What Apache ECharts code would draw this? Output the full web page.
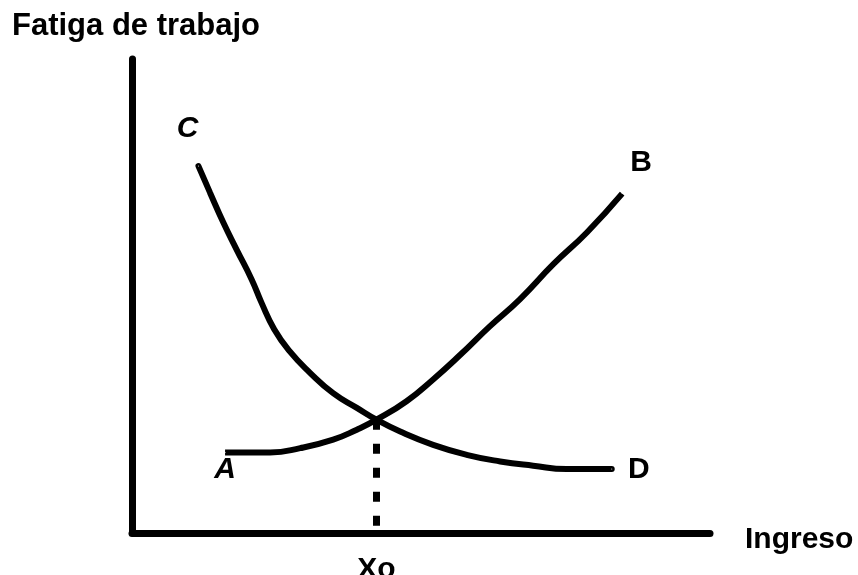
<!DOCTYPE html>
<html>
<head>
<meta charset="utf-8">
<script src="https://cdn.jsdelivr.net/npm/echarts@6/dist/echarts.min.js"></script>
<style>
html,body{margin:0;padding:0;background:#fff;}
#chart{width:858px;height:575px;}
</style>
</head>
<body>
<div id="chart"></div>
<script>
// Curve C–D (descending)
const cdX = [11.5, 13.5, 15.8, 18.1, 20.7, 22.4, 24.6, 27.3, 30.8, 34.8, 38.9, 42.3, 46.4, 52.1, 57.9, 63.7, 69.4, 75.2, 83.0];
const cdY = [77.4, 71.8, 65.5, 59.8, 53.5, 48.6, 43.0, 38.3, 33.8, 29.5, 26.4, 23.9, 21.4, 18.6, 16.5, 15.1, 14.2, 13.5, 13.5];
// Curve A–B (ascending)
const abX = [16.1, 23.9, 29.1, 34.8, 38.9, 42.3, 47.5, 52.1, 56.8, 61.9, 67.1, 72.9, 78.7, 84.8];
const abY = [17.0, 17.0, 17.9, 19.7, 21.8, 23.9, 27.8, 32.4, 37.6, 43.6, 49.3, 56.7, 63.4, 71.6];
// Equilibrium point
const xo = 42.3;
const yo = 23.9;
const xTickValues = [xo];
const xTickLabels = ['Xo'];
const curveLetters = ['C', 'D', 'A', 'B'];
const yAxisName = 'Fatiga de trabajo';
const xAxisName = 'Ingreso';

const zip = (xs, ys) => xs.map((x, i) => [x, ys[i]]);
const cd = zip(cdX, cdY);
const ab = zip(abX, abY);

function letter(pt, text, offset, italic) {
  return {
    value: pt,
    label: {
      show: true, formatter: text, position: 'top', distance: 0,
      offset: offset,
      fontFamily: 'Liberation Sans', fontWeight: 'bold', fontSize: 30,
      color: '#000000', opacity: 1, textBorderWidth: 0,
      fontStyle: italic ? 'italic' : 'normal'
    }
  };
}

const chart = echarts.init(document.getElementById('chart'), null, {renderer: 'canvas'});
chart.setOption({
  animation: false,
  backgroundColor: '#fff',
  grid: {left: 132, right: 148, top: 59, bottom: 42, containLabel: false, outerBoundsMode: 'none'},
  xAxis: {
    type: 'value', min: 0, max: 100,
    name: xAxisName, nameLocation: 'end', nameGap: 35,
    nameTextStyle: {fontFamily: 'Liberation Sans', fontWeight: 'bold', fontSize: 30, color: '#000', verticalAlign: 'top', lineHeight: 14},
    axisLine: {show: true, lineStyle: {color: '#000', width: 7}},
    axisTick: {show: false},
    splitLine: {show: false},
    axisLabel: {
      show: true, customValues: xTickValues,
      formatter: (v) => xTickLabels[xTickValues.indexOf(v)] || '',
      fontFamily: 'Liberation Sans', fontWeight: 'bold', fontSize: 30, color: '#000', margin: 22
    }
  },
  yAxis: {
    type: 'value', min: 0, max: 100,
    name: yAxisName, nameLocation: 'end', nameGap: 17,
    nameTextStyle: {fontFamily: 'Liberation Sans', fontWeight: 'bold', fontSize: 31, color: '#000', align: 'left', padding: [0, 0, 0, -120]},
    axisLine: {show: true, lineStyle: {color: '#000', width: 7}},
    axisTick: {show: false},
    splitLine: {show: false},
    axisLabel: {show: false}
  },
  series: [
    {
      type: 'line', data: cd, smooth: 0.5, symbol: 'none',
      lineStyle: {color: '#000', width: 6, cap: 'round'}
    },
    {
      type: 'line', data: ab, smooth: 0.5, symbol: 'none',
      lineStyle: {color: '#000', width: 6, cap: 'butt'}
    },
    {
      type: 'line', data: [[xo, yo], [xo, 0]], symbol: 'none',
      lineStyle: {color: '#000', width: 7, type: [10, 14], cap: 'butt'}
    },
    {
      type: 'scatter', symbol: 'circle', symbolSize: 1, z: 10,
      itemStyle: {color: '#ffffff', opacity: 1},
      silent: true,
      data: [
        letter(cd[0], curveLetters[0], [-11, -22], true),
        letter(cd[cd.length - 1], curveLetters[1], [27, 16], false),
        letter(ab[0], curveLetters[2], [0, 33], true),
        letter(ab[ab.length - 1], curveLetters[3], [19, -15], false)
      ]
    }
  ]
});
</script>
</body>
</html>
